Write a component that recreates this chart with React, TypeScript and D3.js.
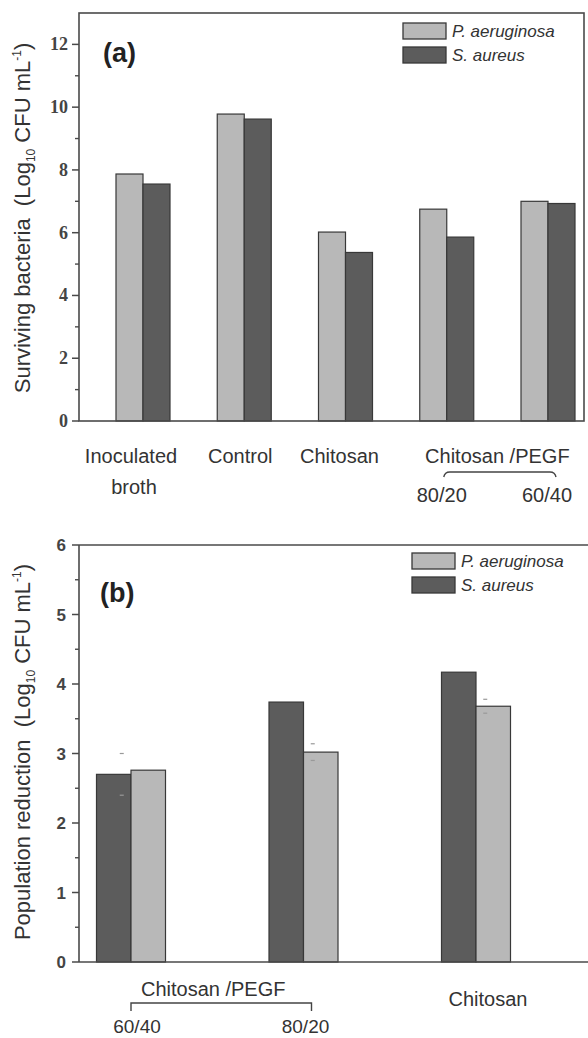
import React from 'react';
import * as d3 from 'd3';

// ---- Panel (a) data ----
const catsA = ['Inoculated broth', 'Control', 'Chitosan', '80/20', '60/40'];
const pAerA = [7.87, 9.78, 6.02, 6.75, 7.0];
const sAurA = [7.55, 9.62, 5.37, 5.86, 6.93];
const ticksA = [0, 2, 4, 6, 8, 10, 12];
const minorA = [1, 3, 5, 7, 9, 11];

// ---- Panel (b) data ----
const catsB = ['60/40', '80/20', 'Chitosan'];
const sAurB = [2.7, 3.74, 4.17];
const pAerB = [2.76, 3.02, 3.68];
const errSB = [0.3, 0, 0];
const errPB = [0, 0.12, 0.1];
const ticksB = [0, 1, 2, 3, 4, 5, 6];
const minorB = [0.5, 1.5, 2.5, 3.5, 4.5, 5.5];

const LIGHT = '#b8b8b8';
const DARK = '#5c5c5c';
const EDGE = '#383838';
const AXIS = '#4a4a4a';
const SANS = '"Liberation Sans", Arial, sans-serif';
const SERIF = '"Liberation Serif", "Times New Roman", serif';

function YTitle({ x, y, main }: { x: number; y: number; main: string }) {
  return (
    <text
      transform={`translate(${x},${y}) rotate(-90)`}
      textAnchor="middle"
      fontFamily={SANS}
      fontSize={22}
      fill="#333"
      style={{ whiteSpace: 'pre' }}
    >
      <tspan>{main}  (Log</tspan>
      <tspan fontSize={12} dy={5}>10</tspan>
      <tspan dy={-5}> CFU mL</tspan>
      <tspan fontSize={12} dy={-9}>-1</tspan>
      <tspan dy={9}>)</tspan>
    </text>
  );
}

function Legend({ x, y, order }: { x: number; y: number; order: ('p' | 's')[] }) {
  return (
    <g>
      {order.map((k, i) => (
        <g key={k} transform={`translate(${x},${y + i * 24})`}>
          <rect x={0} y={0} width={43} height={16} fill={k === 'p' ? LIGHT : DARK} stroke={EDGE} strokeWidth={1.3} />
          <text x={49} y={14} fontFamily={SANS} fontStyle="italic" fontSize={17} fill="#333">
            {k === 'p' ? 'P. aeruginosa' : 'S. aureus'}
          </text>
        </g>
      ))}
    </g>
  );
}

export default function App() {
  // Panel (a) scales
  const yA = d3.scaleLinear().domain([0, 13]).range([421, 13]);
  const xA = d3.scalePoint<string>().domain(catsA).range([143, 548]);
  const bwA = 27;
  const leftA = 79, rightA = 584;

  // Panel (b) scales
  const yB = d3.scaleLinear().domain([0, 6]).range([962, 545]);
  const xB = d3.scalePoint<string>().domain(catsB).range([131, 476]);
  const bwB = 34.5;
  const leftB = 79, rightB = 588;

  return (
    <div>
      <style>{`body{margin:0}`}</style>
      <svg width={588} height={1038} viewBox="0 0 588 1038" style={{ display: 'block', background: '#fff' }}>
        {/* ===== Panel (a) ===== */}
        <g>
          {catsA.map((c, i) => (
            <g key={c}>
              <rect x={(xA(c) as number) - bwA} y={yA(pAerA[i])} width={bwA} height={yA(0) - yA(pAerA[i])}
                fill={LIGHT} stroke={EDGE} strokeWidth={1.2} />
              <rect x={xA(c) as number} y={yA(sAurA[i])} width={bwA} height={yA(0) - yA(sAurA[i])}
                fill={DARK} stroke={EDGE} strokeWidth={1.2} />
            </g>
          ))}
          {/* frame */}
          <rect x={leftA} y={yA(13)} width={rightA - leftA} height={yA(0) - yA(13)} fill="none" stroke={AXIS} strokeWidth={1.6} />
          {ticksA.map((t) => (
            <g key={t}>
              <line x1={leftA - 7} x2={leftA} y1={yA(t)} y2={yA(t)} stroke={AXIS} strokeWidth={1.5} />
              <text x={leftA - 11} y={yA(t) + 6} textAnchor="end" fontFamily={SERIF} fontSize={18} fontWeight="bold" fill="#444">{t}</text>
            </g>
          ))}
          {minorA.map((t) => (
            <line key={t} x1={leftA - 4} x2={leftA} y1={yA(t)} y2={yA(t)} stroke={AXIS} strokeWidth={1.4} />
          ))}
          <text x={103} y={62} fontFamily={SANS} fontWeight="bold" fontSize={27} fill="#222">(a)</text>
          <Legend x={403} y={23} order={['p', 's']} />
          <YTitle x={30} y={218} main="Surviving bacteria" />
          {/* category labels */}
          <text x={(xA(catsA[0]) as number) - 12} y={463} textAnchor="middle" fontFamily={SANS} fontSize={20} fill="#333">Inoculated</text>
          <text x={(xA(catsA[0]) as number) - 9} y={494} textAnchor="middle" fontFamily={SANS} fontSize={20} fill="#333">broth</text>
          <text x={(xA(catsA[1]) as number) - 4} y={463} textAnchor="middle" fontFamily={SANS} fontSize={20} fill="#333">Control</text>
          <text x={(xA(catsA[2]) as number) - 6} y={463} textAnchor="middle" fontFamily={SANS} fontSize={20} fill="#333">Chitosan</text>
          <text x={((xA(catsA[3]) as number) + (xA(catsA[4]) as number)) / 2} y={463} textAnchor="middle" fontFamily={SANS} fontSize={20} fill="#333">Chitosan /PEGF</text>
          <text x={(xA(catsA[3]) as number) - 5} y={502} textAnchor="middle" fontFamily={SANS} fontSize={20} fill="#333">80/20</text>
          <text x={(xA(catsA[4]) as number) - 1} y={502} textAnchor="middle" fontFamily={SANS} fontSize={20} fill="#333">60/40</text>
          <path
            d={`M${(xA(catsA[3]) as number) - 3},477 Q${(xA(catsA[3]) as number) - 2},472 ${(xA(catsA[3]) as number) + 3},472 L${(xA(catsA[4]) as number) + 2},472 Q${(xA(catsA[4]) as number) + 7},472 ${(xA(catsA[4]) as number) + 8},477`}
            fill="none" stroke="#444" strokeWidth={1.4}
          />
        </g>

        {/* ===== Panel (b) ===== */}
        <g>
          {catsB.map((c, i) => (
            <g key={c}>
              <rect x={(xB(c) as number) - bwB} y={yB(sAurB[i])} width={bwB} height={yB(0) - yB(sAurB[i])}
                fill={DARK} stroke={EDGE} strokeWidth={1.2} />
              <rect x={xB(c) as number} y={yB(pAerB[i])} width={bwB} height={yB(0) - yB(pAerB[i])}
                fill={LIGHT} stroke={EDGE} strokeWidth={1.2} />
              {errSB[i] > 0 && [1, -1].map((s) => (
                <line key={'s' + s} x1={(xB(c) as number) - bwB / 2 + 6} x2={(xB(c) as number) - bwB / 2 + 10}
                  y1={yB(sAurB[i] + s * errSB[i])} y2={yB(sAurB[i] + s * errSB[i])} stroke="#999" strokeWidth={1.2} />
              ))}
              {errPB[i] > 0 && [1, -1].map((s) => (
                <line key={'p' + s} x1={(xB(c) as number) + bwB / 2 - 10} x2={(xB(c) as number) + bwB / 2 - 6}
                  y1={yB(pAerB[i] + s * errPB[i])} y2={yB(pAerB[i] + s * errPB[i])} stroke="#999" strokeWidth={1.2} />
              ))}
            </g>
          ))}
          <line x1={leftB} x2={rightB} y1={yB(6)} y2={yB(6)} stroke={AXIS} strokeWidth={1.6} />
          <line x1={leftB} x2={rightB} y1={yB(0)} y2={yB(0)} stroke={AXIS} strokeWidth={1.6} />
          <line x1={leftB} x2={leftB} y1={yB(6)} y2={yB(0)} stroke={AXIS} strokeWidth={1.6} />
          {ticksB.map((t) => (
            <g key={t}>
              <line x1={leftB - 7} x2={leftB} y1={yB(t)} y2={yB(t)} stroke={AXIS} strokeWidth={1.5} />
              <text x={leftB - 13} y={yB(t) + 6} textAnchor="end" fontFamily={SANS} fontSize={17} fontWeight="bold" fill="#444">{t}</text>
            </g>
          ))}
          {minorB.map((t) => (
            <line key={t} x1={leftB - 4} x2={leftB} y1={yB(t)} y2={yB(t)} stroke={AXIS} strokeWidth={1.4} />
          ))}
          <text x={100} y={602} fontFamily={SANS} fontWeight="bold" fontSize={27} fill="#222">(b)</text>
          <Legend x={412} y={553} order={['p', 's']} />
          <YTitle x={30} y={752} main="Population reduction" />
          <text x={((xB(catsB[0]) as number) + (xB(catsB[1]) as number)) / 2 - 4} y={996} textAnchor="middle" fontFamily={SANS} fontSize={20} fill="#333">Chitosan /PEGF</text>
          <path
            d={`M${(xB(catsB[0]) as number)},1011 L${(xB(catsB[0]) as number)},1003 L${(xB(catsB[1]) as number) + 8},1003 L${(xB(catsB[1]) as number) + 8},1011`}
            fill="none" stroke="#444" strokeWidth={1.4}
          />
          <text x={(xB(catsB[0]) as number) + 6} y={1033} textAnchor="middle" fontFamily={SANS} fontSize={19} fill="#333">60/40</text>
          <text x={(xB(catsB[1]) as number) + 2} y={1033} textAnchor="middle" fontFamily={SANS} fontSize={19} fill="#333">80/20</text>
          <text x={(xB(catsB[2]) as number) + 12} y={1006} textAnchor="middle" fontFamily={SANS} fontSize={20} fill="#333">Chitosan</text>
        </g>
      </svg>
    </div>
  );
}
